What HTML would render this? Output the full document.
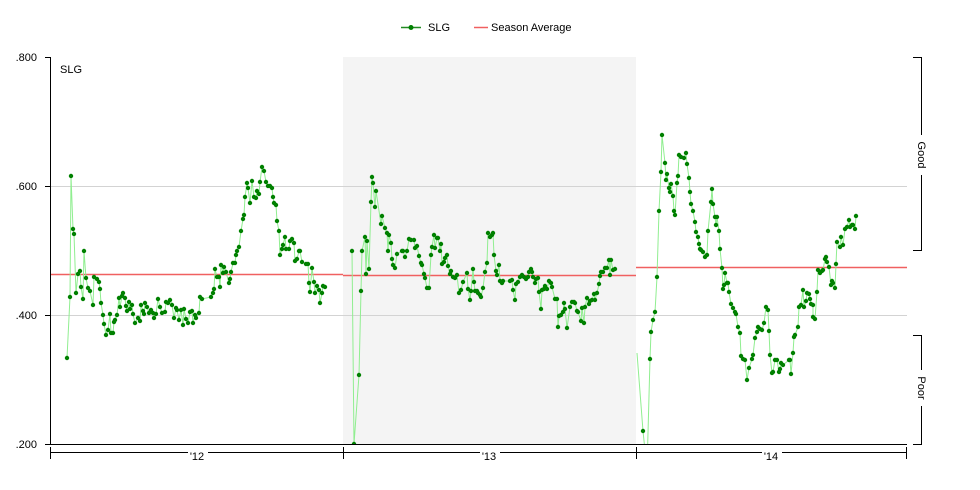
<!DOCTYPE html>
<html><head><meta charset="utf-8"><style>
html,body{margin:0;padding:0;background:#fff;}
svg{display:block;font-family:"Liberation Sans",sans-serif;}
</style></head><body>
<svg id="s" width="980" height="490" viewBox="0 0 980 490" xmlns="http://www.w3.org/2000/svg">
<defs><clipPath id="c"><rect x="50" y="57" width="857" height="387"/></clipPath></defs>
<rect x="343" y="57" width="293" height="387" fill="#f4f4f4"/>
<g stroke="#d3d3d3" stroke-width="1">
<line x1="50" y1="186.5" x2="907" y2="186.5"/>
<line x1="50" y1="315.5" x2="907" y2="315.5"/>
</g>
<g stroke="#f06060" stroke-width="1.5">
<line x1="50" y1="274.5" x2="343" y2="274.5"/>
<line x1="343" y1="275.5" x2="636" y2="275.5"/>
<line x1="636" y1="267.5" x2="907" y2="267.5"/>
</g>
<g id="series" clip-path="url(#c)"></g>
<g stroke="#000" stroke-width="1" fill="none">
<line x1="50.5" y1="57" x2="50.5" y2="444"/>
<line x1="50" y1="444.5" x2="907" y2="444.5"/>
<line x1="45" y1="57.5" x2="50" y2="57.5"/>
<line x1="45" y1="186.5" x2="50" y2="186.5"/>
<line x1="45" y1="315.5" x2="50" y2="315.5"/>
<line x1="45" y1="444.5" x2="50" y2="444.5"/>
<line x1="50" y1="452.5" x2="907" y2="452.5"/>
<line x1="50.5" y1="447" x2="50.5" y2="459"/>
<line x1="343.5" y1="447" x2="343.5" y2="459"/>
<line x1="636.5" y1="447" x2="636.5" y2="459"/>
<line x1="906.5" y1="447" x2="906.5" y2="459"/>
<path d="M913 57.5H921.5V250.5H913"/>
<path d="M913 335.5H921.5V444.5H913"/>
</g>
<g font-size="11" fill="#000" text-anchor="end">
<text x="37" y="61">.800</text>
<text x="37" y="190">.600</text>
<text x="37" y="319">.400</text>
<text x="37" y="448">.200</text>
</g>
<text x="60" y="73" font-size="11">SLG</text>
<g font-size="11" text-anchor="middle">
<rect x="188" y="448" width="20" height="10" fill="#fff"/><text x="197" y="460">'12</text>
<rect x="480" y="448" width="20" height="10" fill="#fff"/><text x="489" y="460">'13</text>
<rect x="762" y="448" width="20" height="10" fill="#fff"/><text x="771" y="460">'14</text>
</g>
<rect x="917" y="135" width="9" height="40" fill="#fff"/>
<text transform="translate(918,155) rotate(90)" font-size="11" text-anchor="middle">Good</text>
<rect x="917" y="370" width="9" height="36" fill="#fff"/>
<text transform="translate(918,388) rotate(90)" font-size="11" text-anchor="middle">Poor</text>
<line x1="401" y1="27.5" x2="421" y2="27.5" stroke="#228b22" stroke-width="1.5"/>
<circle cx="411" cy="27.5" r="2.5" fill="#008000"/>
<text x="428" y="31" font-size="11">SLG</text>
<line x1="474" y1="27.5" x2="488" y2="27.5" stroke="#f06060" stroke-width="1.5"/>
<text x="491" y="31" font-size="11">Season Average</text>
</svg>
<script>
var segs=[
[[67,358],[70,297],[71,176],[73,229],[74,234],[76,293],[78,274],[80,271],[81,287],[83,299],[84,251],[86,278],[88,288],[90,291],[93,305],[94,277],[97,279],[99,282],[100,289],[101,303],[103,315],[104,324],[106,335],[108,330],[110,314],[111,333],[113,333],[114,322],[115,320],[117,315],[119,298],[120,307],[122,296],[123,293],[125,298],[126,306],[127,311],[129,302],[130,309],[132,305],[133,314],[135,323],[138,318],[140,321],[141,305],[143,311],[144,314],[145,303],[147,307],[149,313],[151,310],[153,313],[154,318],[156,314],[158,299],[160,307],[162,313],[165,312],[166,302],[168,303],[170,300],[172,305],[174,318],[176,308],[177,310],[179,320],[181,310],[183,325],[184,309],[186,319],[188,323],[190,312],[192,311],[193,323],[195,315],[196,318],[199,313],[200,297],[202,299],[211,297],[213,293],[214,289],[215,269],[217,277],[219,277],[220,287],[221,265],[223,273],[224,267],[226,272],[229,283],[230,279],[231,272],[233,263],[235,263],[236,255],[237,251],[239,247],[241,231],[243,219],[244,215],[245,197],[247,183],[248,188],[250,203],[252,181],[254,197],[256,198],[257,191],[259,194],[260,182],[262,167],[264,171],[266,182],[268,186],[270,186],[272,188],[273,197],[274,203],[276,205],[277,221],[279,231],[280,255],[282,249],[283,245],[285,237],[286,249],[289,249],[290,241],[292,239],[294,243],[295,261],[297,259],[299,251],[300,251],[302,262],[306,264],[308,264],[309,283],[310,292],[312,268],[314,282],[315,293],[317,286],[319,290],[320,303],[322,293],[323,286],[325,287]],
[[352,251],[354,444],[359,375],[361,291],[362,251],[365,237],[366,274],[367,241],[369,269],[371,202],[372,177],[373,183],[375,207],[376,191],[381,224],[382,216],[385,228],[387,233],[388,251],[389,235],[391,243],[392,259],[393,265],[395,268],[397,254],[402,251],[403,251],[405,257],[407,251],[409,239],[411,240],[414,240],[415,248],[417,246],[419,256],[421,263],[422,265],[424,274],[425,278],[427,288],[429,288],[431,255],[432,247],[434,235],[435,248],[437,238],[438,238],[440,251],[441,244],[442,264],[444,262],[445,258],[447,255],[448,266],[450,274],[451,271],[453,277],[455,278],[457,275],[459,293],[461,290],[463,282],[467,273],[468,289],[470,300],[471,291],[473,269],[474,282],[475,291],[477,291],[478,293],[480,295],[481,297],[483,288],[485,272],[487,263],[488,233],[490,237],[492,235],[493,233],[494,255],[496,271],[497,275],[499,265],[500,281],[502,283],[503,281],[510,281],[512,280],[513,290],[515,300],[516,284],[518,282],[520,277],[522,275],[524,277],[526,279],[528,277],[529,272],[531,269],[532,272],[533,277],[535,283],[536,279],[538,278],[539,292],[541,309],[542,290],[544,289],[545,286],[547,289],[549,281],[551,283],[552,287],[555,299],[557,299],[558,327],[559,316],[561,315],[563,312],[564,303],[565,309],[567,328],[570,307],[572,302],[574,302],[575,303],[577,311],[578,312],[581,321],[582,308],[584,323],[585,307],[587,298],[589,304],[590,301],[592,300],[594,294],[595,300],[597,293],[599,284],[600,276],[601,272],[603,272],[605,268],[607,268],[609,260],[610,275],[611,260],[613,270],[615,269]],
[[637,353],[643,431],[647,470],[650,359],[651,332],[653,320],[655,312],[657,277],[659,211],[661,172],[662,135],[665,163],[666,180],[667,174],[669,188],[670,192],[671,184],[673,196],[674,211],[675,215],[677,183],[678,176],[679,155],[681,157],[684,158],[686,153],[687,164],[689,178],[690,192],[691,204],[693,211],[695,222],[696,232],[698,237],[699,244],[700,249],[701,250],[703,252],[705,257],[707,255],[708,231],[711,202],[712,189],[713,204],[715,217],[716,225],[717,217],[719,231],[720,249],[722,268],[723,289],[724,285],[725,273],[727,283],[728,283],[729,292],[731,304],[733,308],[735,312],[736,314],[738,327],[740,333],[741,356],[743,359],[745,360],[747,380],[749,368],[752,359],[753,355],[755,338],[757,332],[758,327],[760,329],[762,330],[764,323],[766,307],[768,310],[769,331],[770,355],[772,373],[773,372],[775,360],[777,360],[779,372],[780,369],[781,363],[783,365],[789,360],[790,360],[791,374],[793,353],[794,337],[795,335],[798,327],[799,307],[801,305],[803,290],[804,307],[806,301],[807,293],[809,294],[810,299],[811,304],[813,305],[813,317],[815,319],[817,292],[818,270],[820,273],[822,271],[823,270],[825,259],[826,257],[827,262],[829,267],[831,285],[832,281],[833,283],[835,288],[836,264],[837,242],[840,247],[841,237],[843,245],[845,229],[847,227],[849,220],[850,227],[852,225],[853,225],[855,229],[856,216]]
];
var NS="http://www.w3.org/2000/svg",g=document.getElementById("series"),h="";
segs.forEach(function(s,i){
 h+='<polyline fill="none" stroke="#90ee90" stroke-width="1" points="'+s.map(function(p){return p.join(",")}).join(" ")+'"/>';
 s.forEach(function(p,j){ if(i==2&&j==0)return; h+='<circle cx="'+p[0]+'" cy="'+p[1]+'" r="2.2" fill="#008000"/>';});
});
g.innerHTML=h;
</script>
</body></html>
